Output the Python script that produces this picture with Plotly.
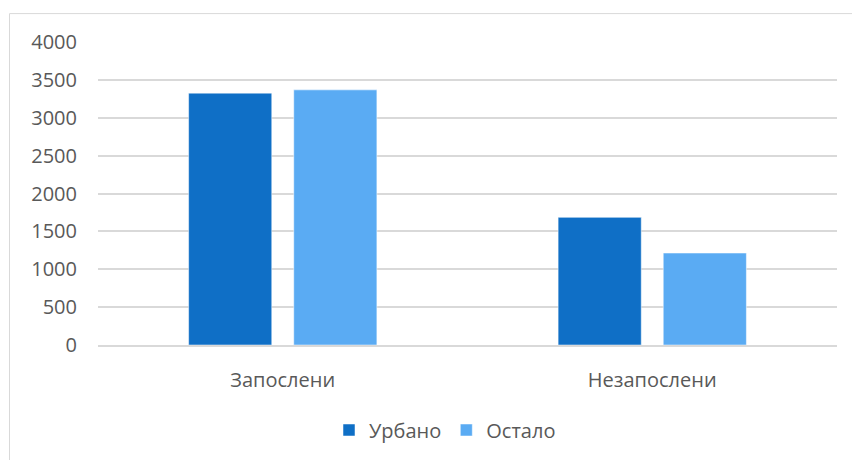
import plotly.graph_objects as go

# Employment status by settlement type
categories = ["Запослени", "Незапослени"]
urban_values = [3325, 1685]
other_values = [3368, 1214]
series_names = ["Урбано", "Остало"]
y_ticks = [0, 500, 1000, 1500, 2000, 2500, 3000, 3500, 4000]

DARK_BLUE = "#0F6FC6"
LIGHT_BLUE = "#5AABF3"
GRID = "#D9D9D9"
TEXT = "#595959"
FONT = "Open Sans"

fig = go.Figure()
fig.add_trace(go.Bar(x=categories, y=urban_values, name=series_names[0],
                     marker=dict(color=DARK_BLUE, line=dict(color="#FFFFFF", width=0.5))))
fig.add_trace(go.Bar(x=categories, y=other_values, name=series_names[1],
                     marker=dict(color=LIGHT_BLUE, line=dict(color="#FFFFFF", width=0.5))))

W, H = 852, 460
L, R, T, B = 98, 15, 42, 114
pw, ph = W - L - R, H - T - B

def px_to_paper_x(px):
    return (px - L) / pw

def px_to_paper_y(py):
    return (H - B - py) / ph

fig.update_layout(
    width=W, height=H,
    margin=dict(l=L, r=R, t=T, b=B),
    paper_bgcolor="white", plot_bgcolor="white",
    barmode="group", bargap=0.431, bargroupgap=0.209,
    font=dict(family=FONT, size=20, color=TEXT),
    showlegend=True,
    legend=dict(orientation="h", x=px_to_paper_x(445), xanchor="center",
                y=px_to_paper_y(430), yanchor="middle",
                font=dict(family=FONT, size=20, color=TEXT), itemwidth=30,
                bgcolor="rgba(0,0,0,0)"),
    shapes=[dict(type="rect", xref="paper", yref="paper",
                 x0=px_to_paper_x(9.5), x1=px_to_paper_x(W + 5),
                 y0=px_to_paper_y(H + 5), y1=px_to_paper_y(13.5),
                 line=dict(color=GRID, width=1), fillcolor="rgba(0,0,0,0)", layer="below")],
)
fig.update_xaxes(showgrid=False, showline=True, linecolor=GRID, linewidth=1.5,
                 ticks="", ticklabelstandoff=16,
                 tickfont=dict(family=FONT, size=20, color=TEXT))
fig.update_yaxes(range=[0, 4000], tickvals=y_ticks, showgrid=True, gridcolor=GRID, gridwidth=1.5,
                 zeroline=False, showline=False, ticks="", ticklabelstandoff=20,
                 tickfont=dict(family=FONT, size=20, color=TEXT))

fig.write_html("out.html")
